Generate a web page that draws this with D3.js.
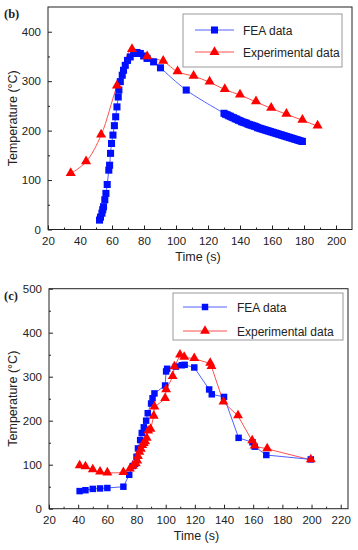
<!DOCTYPE html>
<html>
<head>
<meta charset="utf-8">
<script src="https://cdn.jsdelivr.net/npm/d3@7"></script>
<style>
  body { margin: 0; background: #fff; }
  svg { display: block; font-family: "Liberation Sans", Arial, sans-serif; }
</style>
</head>
<body>
<div id="chart"></div>
<script>
// panel (b) FEA data [time s, temp C]
const feaB = [
  [52.2,19],[52.8,25],[53.7,33],[54.2,40],[54.7,46],[55.5,60],[56.2,73],[57,91],[58,120],[58.5,130],
  [59.1,154],[59.7,174],[60.6,191],[61.5,210],[62.3,228],[63.1,248],[63.9,268],[64.3,282],[65.2,299],
  [66.4,312],[67.2,322],[68.3,332],[69.7,342],[71.4,349],[73.5,356],[75.6,358],[77.7,356],[79.8,351],
  [81.9,346],[86,339],[90.3,327],[106.4,282],
  [130,235],[131,233],[132,232],[133,230],[134,229],[135,227],[136,226],[137,224],[138,223],[139,221],
  [140,220],[141,218],[142,217],[143,216],[144,215],[145,213],[146,212],[147,211],[148,210],[149,209],
  [150,208],[151,206],[152,205],[153,204],[154,203],[155,202],[156,201],[157,200],[158,199],[159,198],
  [160,197],[161,196],[162,195],[163,194],[164,193],[165,192],[166,191],[167,190],[168,189],[169,188],
  [170,187],[171,186],[172,185],[173,184],[174,183],[175,182],[176,181],[177,180],[178,179],[179,178]
];
// panel (b) experimental data
const expB = [
  [34.2,113],[43.8,137],[53.2,191],[63.1,290],[72.5,364],[82,349],[92,340],[101,319],[111,310],
  [121,298],[130.5,283],[140,272],[150,258],[159.5,245],[169,233],[179,221],[188.5,209]
];
// panel (c) FEA data
const feaC = [
  [41,40],[45,42],[50,45],[55,46],[60,47],[71,50],[75,77],[77.5,97],[79,102],[80,118],[81,137],
  [82.5,156],[83.6,172],[85,185],[86.6,200],[87.7,217],[90,239],[91,251],[92.3,262],[99.6,280],
  [100.3,312],[101,318],[107,323],[111,326],[113,327],[119.6,321],[129.8,271],[131.6,260],[140,254],
  [150,161],[159.5,151],[161,141],[169,122],[199.5,112]
];
// panel (c) experimental data
const expC = [
  [41,97],[45,95],[50,88],[55,83],[60,81],[71,82],[75.5,90],[77.5,96],[79.5,102],[80.5,108],[81,118],
  [82,128],[83,135],[84,143],[85,148],[86,152],[87,160],[88,176],[89.6,180],[91.8,210],[92.3,231],
  [99.6,250],[100.3,270],[104.8,300],[106,322],[109.8,349],[112.7,344],[119.6,341],[130.5,330],
  [131.4,323],[139.6,242],[149.6,211],[159.3,154],[161,142],[169.6,136],[199.5,111]
];

const xTicksB = [20,40,60,80,100,120,140,160,180,200];
const yTicksB = [0,100,200,300,400];
const xTicksC = [20,40,60,80,100,120,140,160,180,200,220];
const yTicksC = [0,100,200,300,400,500];
const seriesNames = ["FEA data", "Experimental data"];

const W = 358, H = 550;
const svg = d3.select("#chart").append("svg")
  .attr("width", W).attr("height", H);

function drawPanel(p) {
  const x = d3.scaleLinear().domain(p.xDomain).range([p.left, p.right]);
  const y = d3.scaleLinear().domain(p.yDomain).range([p.bottom, p.top]);
  const g = svg.append("g");

  // frame
  g.append("rect")
    .attr("x", p.left).attr("y", p.top)
    .attr("width", p.right - p.left).attr("height", p.bottom - p.top)
    .attr("fill", "none").attr("stroke", "#222").attr("stroke-width", 1);

  // minor ticks (inward)
  const xStep = p.xTicks[1] - p.xTicks[0];
  const yStep = p.yTicks[1] - p.yTicks[0];
  const xMinor = p.xTicks.map(v => v + xStep / 2).filter(v => v < p.xDomain[1]);
  const yMinor = p.yTicks.map(v => v + yStep / 2).filter(v => v < p.yDomain[1]);

  const xAx = d3.axisBottom(x).tickValues(p.xTicks).tickSizeInner(-4).tickSizeOuter(0).tickPadding(7);
  const yAx = d3.axisLeft(y).tickValues(p.yTicks).tickSizeInner(-4).tickSizeOuter(0).tickPadding(7);
  const xa = g.append("g").attr("transform", "translate(0," + p.bottom + ")").call(xAx);
  const ya = g.append("g").attr("transform", "translate(" + p.left + ",0)").call(yAx);
  g.append("g").attr("transform", "translate(0," + p.bottom + ")")
    .call(d3.axisBottom(x).tickValues(xMinor).tickSizeInner(-2).tickSizeOuter(0).tickFormat(""));
  g.append("g").attr("transform", "translate(" + p.left + ",0)")
    .call(d3.axisLeft(y).tickValues(yMinor).tickSizeInner(-2).tickSizeOuter(0).tickFormat(""));
  g.selectAll(".domain").remove();
  g.selectAll(".tick line").attr("stroke", "#222");
  [xa, ya].forEach(a => a.selectAll("text")
    .attr("font-size", "11.5px").attr("fill", "#222")
    .attr("font-family", "'Liberation Sans', Arial, sans-serif"));

  // axis titles
  g.append("text")
    .attr("x", (p.left + p.right) / 2 - 2).attr("y", p.bottom + 31)
    .attr("text-anchor", "middle").attr("font-size", "12.5px").attr("fill", "#222")
    .text("Time (s)");
  g.append("text")
    .attr("transform", "translate(17," + ((p.top + p.bottom) / 2) + ") rotate(-90)")
    .attr("text-anchor", "middle").attr("font-size", "12.5px").attr("fill", "#222")
    .text("Temperature (°C)");

  // panel letter
  g.append("text")
    .attr("x", 4).attr("y", p.top + 11)
    .attr("font-family", "'Liberation Serif', 'Times New Roman', serif")
    .attr("font-size", "12.5px").attr("font-weight", "bold").attr("fill", "#222")
    .text(p.label);

  const line = d3.line().x(d => x(d[0])).y(d => y(d[1])).curve(p.curve);

  // experimental (drawn first), FEA
  g.append("path").datum(p.exp).attr("d", line)
    .attr("fill", "none").attr("stroke", "#ff5050").attr("stroke-width", 1);
  g.append("path").datum(p.fea).attr("d", line)
    .attr("fill", "none").attr("stroke", "#5060ff").attr("stroke-width", 1);

  const sq = d3.symbol(d3.symbolSquare, p.sqSize);
  const tri = d3.symbol(d3.symbolTriangle, p.triSize);
  g.append("g").selectAll("path").data(p.fea).join("path")
    .attr("d", sq).attr("transform", d => "translate(" + x(d[0]) + "," + y(d[1]) + ")")
    .attr("fill", "#0010ff");
  g.append("g").selectAll("path").data(p.exp).join("path")
    .attr("d", tri).attr("transform", d => "translate(" + x(d[0]) + "," + (y(d[1]) - 0.5) + ")")
    .attr("fill", "#ff0000");

  // legend
  const L = p.legend;
  g.append("rect").attr("x", L.x).attr("y", L.y).attr("width", L.w).attr("height", L.h)
    .attr("fill", "#fff").attr("stroke", "#999").attr("stroke-width", 1);
  const items = [
    { name: seriesNames[0], color: "#5060ff", fill: "#0010ff", sym: sq, dy: L.row1 },
    { name: seriesNames[1], color: "#ff5050", fill: "#ff0000", sym: tri, dy: L.row2 }
  ];
  items.forEach(it => {
    const yy = L.y + it.dy;
    g.append("line").attr("x1", L.x + L.l0).attr("x2", L.x + L.l1)
      .attr("y1", yy).attr("y2", yy).attr("stroke", it.color).attr("stroke-width", 1);
    g.append("path").attr("d", it.sym)
      .attr("transform", "translate(" + (L.x + (L.l0 + L.l1) / 2) + "," + yy + ")")
      .attr("fill", it.fill);
    g.append("text").attr("x", L.x + L.tx).attr("y", yy + 4.5)
      .attr("font-size", "12px").attr("fill", "#222").text(it.name);
  });
}

drawPanel({
  label: "(b)", left: 48, right: 352, top: 7, bottom: 229.5,
  xDomain: [20, 210], yDomain: [0, 450], xTicks: xTicksB, yTicks: yTicksB,
  fea: feaB, exp: expB, curve: d3.curveCatmullRom, sqSize: 50, triSize: 44,
  legend: { x: 183, y: 14, w: 159, h: 53, row1: 16, row2: 38, l0: 12, l1: 51, tx: 60 }
});

drawPanel({
  label: "(c)", left: 49, right: 348, top: 288.7, bottom: 508.7,
  xDomain: [20, 225], yDomain: [0, 500], xTicks: xTicksC, yTicks: yTicksC,
  fea: feaC, exp: expC, curve: d3.curveLinear, sqSize: 42, triSize: 42,
  legend: { x: 173, y: 293, w: 170, h: 47, row1: 14, row2: 38, l0: 10, l1: 54, tx: 64 }
});
</script>
</body>
</html>
